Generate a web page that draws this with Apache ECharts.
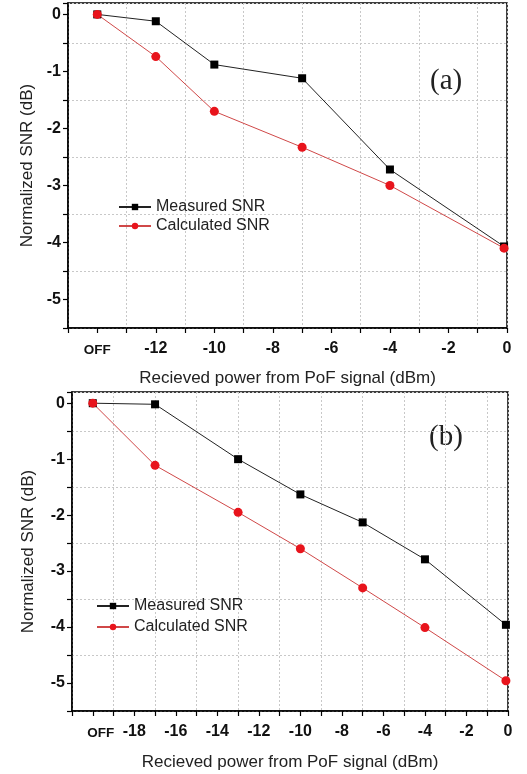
<!DOCTYPE html>
<html>
<head>
<meta charset="utf-8">
<script src="https://cdn.jsdelivr.net/npm/echarts@6/dist/echarts.min.js"></script>
<style>
  html, body { margin: 0; padding: 0; background: #fff; }
  #chart { width: 527px; height: 774px; }
</style>
</head>
<body>
<div id="chart"></div>
<script>
// panel (a)
const xA = [-14, -12, -10, -7, -4, -0.1];
const measuredA = [0, -0.12, -0.88, -1.12, -2.72, -4.07];
const calculatedA = [0, -0.74, -1.70, -2.33, -3.00, -4.10];
const offA = -14;

// panel (b)
const xB = [-20, -17, -13, -10, -7, -4, -0.1];
const measuredB = [0, -0.02, -1.00, -1.63, -2.13, -2.79, -3.96];
const calculatedB = [0, -1.11, -1.95, -2.60, -3.30, -4.01, -4.96];
const offB = -20;

const yTicks = [0, -1, -2, -3, -4, -5];

const font = 'Liberation Sans, Arial, sans-serif';
const xTitle = 'Recieved power from PoF signal (dBm)';
const yTitle = 'Normalized SNR (dB)';

function pairs(xs, ys) {
  return xs.map((x, i) => [x, ys[i]]);
}

function xLabel(off) {
  return function (v) {
    if (Math.abs(v - off) < 1e-6) return '{off|OFF}';
    if (v > off && Math.round(v) % 2 === 0) return String(v);
    return '';
  };
}

function yLabel(v) {
  return yTicks.indexOf(v) >= 0 ? String(v) : '';
}

function mainX(grid, min, off, nameGap, offPad) {
  return {
    gridIndex: grid, type: 'value', min: min, max: 0, interval: 1,
    axisLine: { onZero: false, lineStyle: { color: '#000', width: 1.5 } },
    axisTick: { length: 5, lineStyle: { color: '#000', width: 1.2 } },
    axisLabel: {
      formatter: xLabel(off), margin: 13, color: '#111',
      fontFamily: font, fontWeight: 'bold', fontSize: 16,
      rich: { off: { fontFamily: font, fontWeight: 'bold', fontSize: 13.5, color: '#111', padding: [2, 0, 0, offPad] } }
    },
    splitLine: { show: false },
    name: xTitle, nameLocation: 'middle', nameGap: nameGap,
    nameTextStyle: { fontFamily: font, fontSize: 17, color: '#222' }
  };
}

function gridX(grid, min) {
  return {
    gridIndex: grid, type: 'value', min: min, max: 0, interval: 2,
    axisLine: { show: false, onZero: false }, axisTick: { show: false }, axisLabel: { show: false },
    splitLine: { show: true, lineStyle: { color: '#c8c8c8', type: [2, 2], width: 1 } }
  };
}

function mainY(grid, nameGap) {
  return {
    gridIndex: grid, type: 'value', min: -5.5, max: 0.2, interval: 0.5,
    axisLine: { onZero: false, lineStyle: { color: '#000', width: 1.5 } },
    axisTick: { length: 5, lineStyle: { color: '#000', width: 1.2 } },
    axisLabel: {
      formatter: yLabel, margin: 7, color: '#111',
      fontFamily: font, fontWeight: 'bold', fontSize: 16
    },
    splitLine: { show: false },
    name: yTitle, nameLocation: 'middle', nameGap: nameGap,
    nameTextStyle: { fontFamily: font, fontSize: 17, color: '#222' }
  };
}

function gridY(grid) {
  return {
    gridIndex: grid, type: 'value', min: -5.5, max: 0.2, interval: 1,
    axisLine: { show: false, onZero: false }, axisTick: { show: false }, axisLabel: { show: false },
    splitLine: { show: true, lineStyle: { color: '#c8c8c8', type: [2, 2], width: 1 } }
  };
}

function measured(i, data) {
  return {
    name: 'Measured SNR', type: 'line', xAxisIndex: i * 2, yAxisIndex: i * 2,
    data: data, symbol: 'rect', symbolSize: 8,
    itemStyle: { color: '#000' }, lineStyle: { color: '#222', width: 1 }
  };
}

function calculated(i, data) {
  return {
    name: 'Calculated SNR', type: 'line', xAxisIndex: i * 2, yAxisIndex: i * 2,
    data: data, symbol: 'circle', symbolSize: 9,
    itemStyle: { color: '#e8141c' }, lineStyle: { color: '#d04848', width: 1 }
  };
}

function legend(left, top, gap) {
  return {
    data: ['Measured SNR', 'Calculated SNR'], orient: 'vertical',
    left: left, top: top, itemWidth: 32, itemHeight: 8, itemGap: gap,
    selectedMode: false,
    textStyle: { fontFamily: font, fontSize: 16, color: '#222' }
  };
}

const chart = echarts.init(document.getElementById('chart'));
chart.setOption({
  animation: false,
  backgroundColor: '#fff',
  grid: [
    { left: 68, top: 3, width: 439, height: 325, show: true, borderColor: '#000', borderWidth: 1.5 },
    { left: 72, top: 392, width: 436, height: 319, show: true, borderColor: '#000', borderWidth: 1.5 }
  ],
  xAxis: [mainX(0, -15, offA, 42, 0), gridX(0, -15), mainX(1, -21, offB, 43, 16), gridX(1, -21)],
  yAxis: [mainY(0, 32), gridY(0), mainY(1, 35), gridY(1)],
  legend: [legend(113, 194, 3), legend(91, 593, 5)],
  graphic: [
    { type: 'text', left: 430, top: 67, style: { text: '(a)', font: '29px "Liberation Serif", serif', fill: '#222' } },
    { type: 'text', left: 429, top: 423, style: { text: '(b)', font: '29px "Liberation Serif", serif', fill: '#222' } }
  ],
  series: [
    measured(0, pairs(xA, measuredA)),
    calculated(0, pairs(xA, calculatedA)),
    measured(1, pairs(xB, measuredB)),
    calculated(1, pairs(xB, calculatedB))
  ]
});
</script>
</body>
</html>
